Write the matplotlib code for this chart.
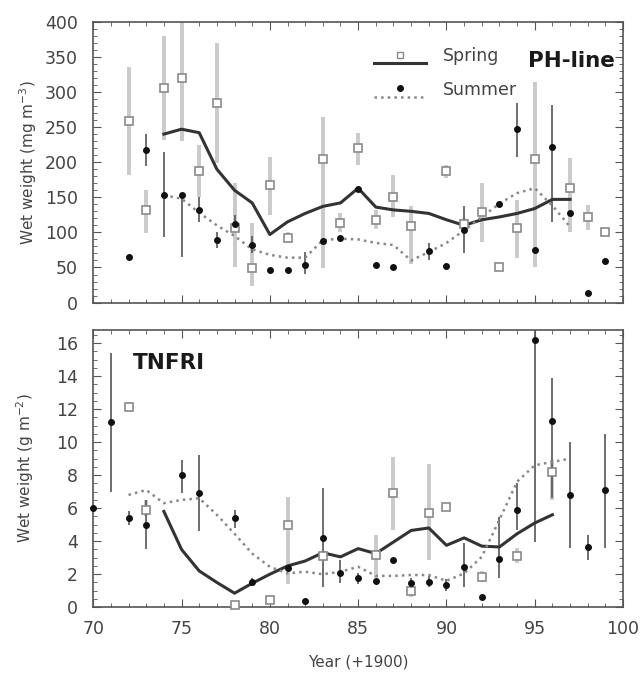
import numpy as np
import matplotlib
matplotlib.use('Agg')
import matplotlib.pyplot as plt
from matplotlib.legend_handler import HandlerBase
from matplotlib.lines import Line2D
from matplotlib.ticker import MultipleLocator

# ---- PH-line (mg m-3) ----
ph_spring_year = [72, 73, 74, 75, 76, 77, 78, 79, 80, 81, 83, 84, 85, 86, 87, 88, 90, 91, 92, 93, 94, 95, 97, 98, 99]
ph_spring_val = [258, 132, 305, 320, 188, 285, 106, 49, 167, 92, 204, 113, 220, 118, 151, 109, 187, 112, 129, 51, 106, 205, 163, 122, 101]
ph_spring_lo = [182, 99, 232, 230, 150, 199, 50, 24, 125, 85, 49, 100, 196, 105, 122, 55, 178, 105, 86, 48, 63, 50, 100, 103, 98]
ph_spring_hi = [335, 160, 380, 410, 225, 370, 170, 113, 208, 100, 264, 128, 242, 132, 182, 137, 196, 120, 171, 55, 146, 314, 206, 139, 104]

ph_summer_year = [72, 73, 74, 75, 76, 77, 78, 79, 80, 81, 82, 83, 84, 85, 86, 87, 89, 90, 91, 93, 94, 95, 96, 97, 98, 99]
ph_summer_val = [65, 218, 153, 153, 132, 89, 112, 82, 47, 46, 53, 88, 92, 162, 54, 51, 74, 52, 103, 140, 247, 75, 222, 127, 13, 59]
ph_summer_lo = [65, 195, 93, 65, 115, 78, 100, 70, 47, 46, 41, 88, 92, 162, 54, 51, 60, 52, 70, 140, 208, 75, 115, 127, 13, 59]
ph_summer_hi = [65, 240, 215, 153, 150, 100, 125, 95, 47, 46, 72, 88, 92, 162, 54, 51, 85, 52, 137, 140, 285, 75, 282, 127, 13, 59]

ph_spring_line_year = list(range(74, 98))
ph_spring_line = [240, 247, 242, 190, 160, 142, 97, 115, 127, 137, 142, 163, 136, 132, 130, 127, 118, 110, 118, 122, 127, 134, 147, 147]
ph_summer_line_year = list(range(74, 98))
ph_summer_line = [153, 148, 128, 110, 95, 76, 68, 64, 64, 89, 91, 90, 85, 82, 60, 72, 85, 103, 122, 141, 156, 163, 138, 108]

# ---- TNFRI (g m-2) ----
tn_spring_year = [72, 73, 78, 80, 81, 83, 86, 87, 88, 89, 90, 92, 94, 96]
tn_spring_val = [12.1, 5.9, 0.15, 0.45, 5.0, 3.1, 3.15, 6.9, 1.0, 5.7, 6.1, 1.85, 3.1, 8.2]
tn_spring_lo = [11.9, 5.5, 0.15, 0.45, 1.4, 3.1, 1.75, 4.7, 0.6, 2.85, 6.1, 1.5, 2.7, 6.5]
tn_spring_hi = [12.4, 6.5, 0.15, 0.45, 6.7, 3.1, 4.4, 9.1, 1.4, 8.7, 6.1, 2.2, 3.6, 8.9]

tn_summer_year = [70, 71, 72, 73, 75, 76, 78, 79, 81, 82, 83, 84, 85, 86, 87, 88, 89, 90, 91, 92, 93, 94, 95, 96, 97, 98, 99]
tn_summer_val = [6.0, 11.2, 5.4, 5.0, 8.0, 6.9, 5.4, 1.5, 2.35, 0.4, 4.2, 2.1, 1.75, 1.6, 2.85, 1.45, 1.55, 1.35, 2.45, 0.6, 2.9, 5.9, 16.2, 11.3, 6.8, 3.65, 7.1]
tn_summer_lo = [6.0, 7.0, 5.0, 3.5, 6.9, 4.6, 4.8, 1.3, 2.35, 0.4, 1.2, 1.45, 1.4, 1.6, 2.85, 1.1, 1.2, 1.0, 1.2, 0.6, 1.75, 4.7, 3.95, 6.6, 3.6, 2.85, 3.6]
tn_summer_hi = [6.0, 15.4, 5.8, 6.5, 8.9, 9.2, 5.9, 1.8, 2.35, 0.4, 7.2, 2.85, 2.1, 1.6, 2.85, 1.8, 1.9, 1.7, 3.9, 0.6, 5.45, 7.5, 17.0, 13.9, 10.0, 4.4, 10.5]

tn_spring_line_year = list(range(74, 97))
tn_spring_line = [5.8, 3.5, 2.2, 1.5, 0.85, 1.45, 2.0, 2.5, 2.8, 3.3, 3.05, 3.55, 3.25, 3.95, 4.65, 4.8, 3.75, 4.2, 3.7, 3.65, 4.45, 5.1, 5.6]
tn_summer_line_year = list(range(72, 98))
tn_summer_line = [6.8, 7.1, 6.3, 6.5, 6.6, 5.6, 4.45, 3.25, 2.45, 2.05, 2.15, 2.0, 2.15, 2.45, 1.9, 1.9, 1.95, 1.95, 1.6, 2.05, 3.05, 5.3, 7.6, 8.6, 8.8, 9.0]

TXT = '#444444'
plt.rcParams['font.family'] = ['DejaVu Sans']
plt.rcParams['font.size'] = 11


class LineMarkerAbove(HandlerBase):
    # legend key: line at the bottom, marker sitting above its middle
    def create_artists(self, legend, orig_handle, xdescent, ydescent, width, height, fontsize, trans):
        line, marker = orig_handle
        y_line = -ydescent - 0.15 * height
        l = Line2D([-xdescent, width - xdescent], [y_line, y_line])
        l.update_from(line)
        m = Line2D([width / 2 - xdescent], [height / 2 - ydescent + 0.05 * height])
        m.update_from(marker)
        l.set_transform(trans)
        m.set_transform(trans)
        return [l, m]


def err(val, lo, hi):
    val, lo, hi = np.array(val), np.array(lo), np.array(hi)
    return [val - lo, hi - val]


def draw_panel(ax, sp, su, sp_line, su_line):
    sy, sv, slo, shi = sp
    uy, uv, ulo, uhi = su
    ax.errorbar(sy, sv, yerr=err(sv, slo, shi), fmt='none', ecolor='#cacaca', elinewidth=2.8, zorder=2)
    ax.errorbar(uy, uv, yerr=err(uv, ulo, uhi), fmt='none', ecolor='#555555', elinewidth=1.2, zorder=2)
    ax.plot(sp_line[0], sp_line[1], '-', color='#333333', lw=2.2, zorder=3)
    ax.plot(su_line[0], su_line[1], ':', color='#888888', lw=1.8, zorder=3)
    ax.plot(sy, sv, 's', mfc='white', mec='#8a8a8a', ms=5.5, mew=1.2, zorder=4, clip_on=False)
    ax.plot(uy, uv, 'o', color='#111111', ms=4, zorder=5, clip_on=False)
    ax.set_xlim(70, 100)
    ax.xaxis.set_major_locator(MultipleLocator(5))
    ax.xaxis.set_minor_locator(MultipleLocator(1))
    ax.tick_params(which='both', direction='in', top=True, right=True, colors='#555555',
                   labelcolor=TXT, labelsize=12.5)
    ax.tick_params(axis='y', which='major', pad=11)
    ax.tick_params(axis='x', which='major', pad=9)
    ax.tick_params(which='major', length=6)
    ax.tick_params(which='minor', length=3)
    for s in ax.spines.values():
        s.set_color('#555555')
        s.set_linewidth(1.2)


fig = plt.figure(figsize=(6.43, 6.8), dpi=100)
ax1 = fig.add_axes([0.145, 0.555, 0.824, 0.413])
ax2 = fig.add_axes([0.145, 0.107, 0.824, 0.408])

draw_panel(ax1, (ph_spring_year, ph_spring_val, ph_spring_lo, ph_spring_hi),
           (ph_summer_year, ph_summer_val, ph_summer_lo, ph_summer_hi),
           (ph_spring_line_year, ph_spring_line), (ph_summer_line_year, ph_summer_line))
ax1.set_ylim(0, 400)
ax1.yaxis.set_major_locator(MultipleLocator(50))
ax1.yaxis.set_minor_locator(MultipleLocator(10))
ax1.tick_params(labelbottom=False)
ax1.set_ylabel('Wet weight (mg m$^{-3}$)', color=TXT, fontsize=11, labelpad=4)
ax1.text(0.985, 0.86, 'PH-line', transform=ax1.transAxes, ha='right', va='center',
         fontsize=15.5, fontweight='bold', color='#1a1a1a')

h_sp = (Line2D([], [], color='#333333', lw=2.2),
        Line2D([], [], marker='s', ls='none', mfc='white', mec='#8a8a8a', ms=5))
h_su = (Line2D([], [], color='#888888', lw=1.8, ls=':'),
        Line2D([], [], marker='o', ls='none', color='#111111', ms=4))
leg = ax1.legend([h_sp, h_su], ['Spring', 'Summer'], handler_map={tuple: LineMarkerAbove()},
                 loc='upper left', bbox_to_anchor=(0.5, 0.965), frameon=False, fontsize=12.5,
                 handlelength=3.0, handletextpad=1.0, labelspacing=0.9)
for t in leg.get_texts():
    t.set_color(TXT)

draw_panel(ax2, (tn_spring_year, tn_spring_val, tn_spring_lo, tn_spring_hi),
           (tn_summer_year, tn_summer_val, tn_summer_lo, tn_summer_hi),
           (tn_spring_line_year, tn_spring_line), (tn_summer_line_year, tn_summer_line))
ax2.set_ylim(0, 16.8)
ax2.yaxis.set_major_locator(MultipleLocator(2))
ax2.yaxis.set_minor_locator(MultipleLocator(0.5))
ax2.set_ylabel('Wet weight (g m$^{-2}$)', color=TXT, fontsize=11, labelpad=14)
ax2.set_xlabel('Year (+1900)', color=TXT, fontsize=11, labelpad=12)
ax2.text(0.074, 0.88, 'TNFRI', transform=ax2.transAxes, ha='left', va='center',
         fontsize=15.5, fontweight='bold', color='#1a1a1a')

fig.savefig('out.png', dpi=100)
